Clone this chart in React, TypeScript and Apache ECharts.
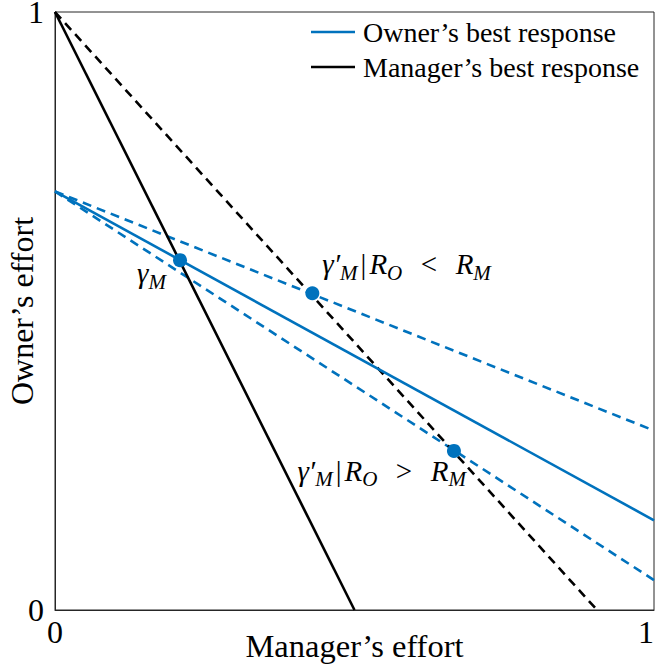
import React, { useEffect, useRef } from "react";
import * as echarts from "echarts";

// ---- data ----
const xTicks = [0, 1];
const yTicks = [0, 1];
const ownerBestResponse: number[][] = [[0, 0.7], [1, 0.15]];
const ownerBestResponseLow: number[][] = [[0, 0.7], [1, 0.3]]; // R_O < R_M
const ownerBestResponseHigh: number[][] = [[0, 0.7], [1, 0.05]]; // R_O > R_M
const managerBestResponse: number[][] = [[0, 1], [0.5, 0]];
const managerBestResponseAlt: number[][] = [[0, 1], [0.905, 0]];
const equilibria: number[][] = [
  [0.2087, 0.585],
  [0.4296, 0.5296],
  [0.666, 0.266],
];
const equilibriumLabels = [
  "{g|γ}{s|M}",
  "{g|γ′}{s|M}{b||}{g|R}{s|O}{n|  <  }{g|R}{s|M}",
  "{g|γ′}{s|M}{b||}{g|R}{s|O}{n|  >  }{g|R}{s|M}",
];

const BLUE = "#0072BD";
const FONT = "Liberation Serif";

export default function App() {
  const ref = useRef<HTMLDivElement>(null);
  useEffect(() => {
    if (!ref.current) return;
    const chart = echarts.init(ref.current, undefined, { renderer: "svg" });

    const labelPlacement = [
      { position: [7 - 14, 7 + 13], align: "right" },
      { position: [7 + 10, 7 - 29], align: "left" },
      { position: [7 + 12, 7 + 20], align: "right" },
    ];
    const rich = {
      g: { fontFamily: FONT, fontStyle: "italic", fontSize: 29, lineHeight: 38, color: "#000" },
      s: { fontFamily: FONT, fontStyle: "italic", fontSize: 21, lineHeight: 20, verticalAlign: "bottom", color: "#000" },
      n: { fontFamily: FONT, fontSize: 29, lineHeight: 38, color: "#000", padding: [0, 4, 0, 4] },
      b: { fontFamily: FONT, fontSize: 29, lineHeight: 38, color: "#000", padding: [0, 3, 0, 3] },
    };

    const lineBase = (name: string, data: number[][], color: string, dashed: boolean, z: number) => ({
      name,
      type: "line",
      data,
      showSymbol: false,
      symbol: "none",
      color,
      z,
      lineStyle: { color, width: 2.6, type: dashed ? [9, 6] : "solid", cap: "butt" },
      silent: true,
    });

    chart.setOption({
      animation: false,
      backgroundColor: "#ffffff",
      textStyle: { fontFamily: FONT },
      grid: {
        left: 55,
        top: 12,
        right: 3,
        bottom: 59,
        outerBoundsMode: "none",
        containLabel: false,
        show: true,
        borderColor: "#262626",
        borderWidth: 1,
        backgroundColor: "transparent",
      },
      legend: {
        data: ["Owner’s best response", "Manager’s best response"],
        orient: "vertical",
        left: 311,
        top: 18,
        padding: 0,
        icon: "rect",
        itemWidth: 44,
        itemHeight: 2.6,
        itemGap: 7,
        selectedMode: false,
        textStyle: {
          fontFamily: FONT,
          fontSize: 28,
          color: "#000",
          padding: [0, 0, 0, 3],
        },
      },
      xAxis: {
        type: "value",
        min: xTicks[0],
        max: xTicks[xTicks.length - 1],
        interval: 1,
        name: "Manager’s effort",
        nameLocation: "middle",
        nameGap: 19,
        nameMoveOverlap: false,
        nameTextStyle: { fontFamily: FONT, fontSize: 32.5, color: "#000" },
        axisLine: { show: true, lineStyle: { color: "#262626", width: 1 } },
        axisTick: { show: false },
        splitLine: { show: false },
        axisLabel: {
          fontFamily: FONT,
          fontSize: 32,
          color: "#000",
          margin: 9,
          lineHeight: 26,
          alignMaxLabel: "right",
        },
      },
      yAxis: {
        type: "value",
        min: yTicks[0],
        max: yTicks[yTicks.length - 1],
        interval: 1,
        name: "Owner’s effort",
        nameLocation: "middle",
        nameGap: 17,
        nameMoveOverlap: false,
        nameRotate: 90,
        nameTextStyle: { fontFamily: FONT, fontSize: 32, color: "#000" },
        axisLine: { show: true, lineStyle: { color: "#262626", width: 1 } },
        axisTick: { show: false },
        splitLine: { show: false },
        axisLabel: { fontFamily: FONT, fontSize: 32, color: "#000", margin: 11, lineHeight: 22 },
      },
      series: [
        lineBase("R_O < R_M", ownerBestResponseLow, BLUE, true, 2),
        lineBase("R_O > R_M", ownerBestResponseHigh, BLUE, true, 2),
        lineBase("Manager’s best response (alt)", managerBestResponseAlt, "#000000", true, 2),
        lineBase("Owner’s best response", ownerBestResponse, BLUE, false, 3),
        lineBase("Manager’s best response", managerBestResponse, "#000000", false, 3),
        {
          name: "equilibria",
          type: "scatter",
          z: 5,
          symbol: "circle",
          symbolSize: 14,
          itemStyle: { color: BLUE, opacity: 1 },
          silent: true,
          data: equilibria.map((v, i) => ({
            value: v,
            label: {
              show: true,
              formatter: equilibriumLabels[i],
              position: labelPlacement[i].position,
              align: labelPlacement[i].align,
              verticalAlign: "middle",
              fontFamily: FONT,
              fontSize: 29,
              color: "#000",
              rich,
            },
          })),
        },
      ],
    });
    return () => chart.dispose();
  }, []);
  return (
    <div
      ref={ref}
      style={{ position: "absolute", left: 0, top: 0, width: 657, height: 669, background: "#fff" }}
    />
  );
}
